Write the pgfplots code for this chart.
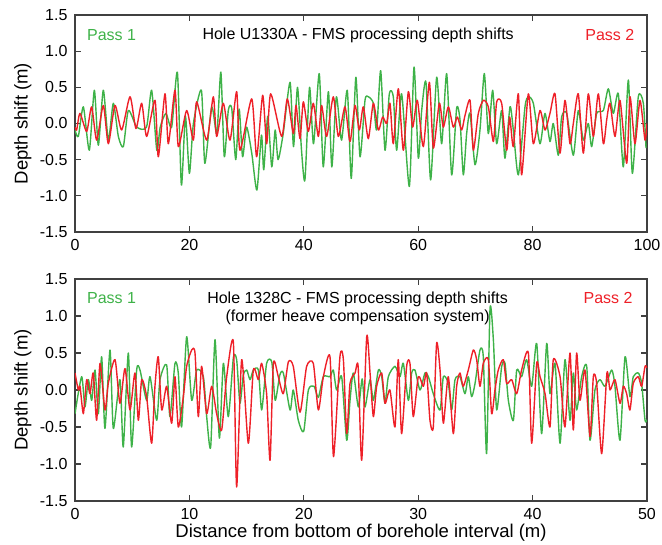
\documentclass[border=0pt]{standalone}
\usepackage{fontspec}
\setmainfont{Liberation Sans}
\usepackage{pgfplots}
\pgfplotsset{compat=1.18}
\definecolor{passone}{RGB}{62,178,72}
\definecolor{passtwo}{RGB}{238,32,40}
\pgfplotsset{
  shiftaxis/.style={
    scale only axis, width=572pt,
    ymin=-1.5, ymax=1.5, ytick={-1.5,-1,...,1.5},
    axis line style={line width=1.2pt, black!75},
    major tick style={line width=1.2pt, black!75},
    major tick length=6pt,
    tick label style={font=\fontsize{16}{18}\selectfont},
    yticklabel style={xshift=-4pt, /pgf/number format/.cd, fixed, fixed zerofill, precision=1},
    xticklabel style={yshift=-4pt},
    /pgf/number format/assume math mode=true,
    ylabel={Depth shift (m)},
    every axis y label/.style={at={(axis description cs:-0.091,0.5)}, rotate=90, anchor=center, font=\fontsize{18.5}{20}\selectfont},
    every axis x label/.style={at={(axis description cs:0.5,-0.145)}, anchor=center, font=\fontsize{18.5}{20}\selectfont},
    every axis plot/.append style={line width=1.4pt, smooth, tension=0.4, mark=none, line join=round},
  }}
\begin{document}
\begin{tikzpicture}
\path[use as bounding box] (-75pt,-44pt) rectangle (587pt,501pt);
% upper panel: Hole U1330A
\begin{axis}[shiftaxis, at={(0pt,269pt)}, anchor=south west, height=217pt,
  xmin=0, xmax=100, xtick={0,20,...,100}]
\addplot[passone] coordinates {(0,-0.09) (0.58,-0.18) (1.46,0.23) (2.5,-0.37) (3.38,0.46) (4.08,-0.30) (4.95,0.46) (5.83,-0.23) (6.7,0.28) (7.58,-0.18) (8.45,-0.32) (9.33,0.18) (10.8,-0.05) (12.5,-0.05) (13.4,0.46) (14.3,-0.37) (14.9,-0.05) (15.9,0.14) (16.9,-0.05) (17.9,0.71) (18.6,-0.85) (19.3,0.1) (20.0,-0.69) (20.7,0) (22.1,0.46) (22.7,-0.55) (23.9,0.23) (24.8,-0.14) (25.5,0.71) (26.1,-0.46) (26.8,0.18) (27.4,0.21) (28.1,-0.50) (28.7,0.2) (29.3,-0.46) (30.0,-0.05) (30.9,-0.41) (31.8,-0.92) (32.6,-0.16) (33.0,-0.64) (33.7,0.1) (34.4,-0.60) (35.0,-0.09) (35.5,-0.50) (36.4,-0.14) (37.6,0.57) (38.2,-0.32) (38.9,0.50) (39.6,-0.37) (40.2,-0.78) (41.0,0.50) (41.7,-0.28) (42.7,0.69) (43.4,-0.60) (44.3,0.44) (44.9,-0.60) (45.7,0.37) (46.6,-0.23) (47.6,0.46) (48.3,-0.76) (49.1,0.64) (49.83,-0.46) (50.70,0.32) (51.28,0.37) (52.16,0.28) (52.74,-0.09) (53.44,0.73) (54.20,-0.37) (54.95,0.41) (55.65,0.37) (56.24,-0.37) (57.11,0.41) (58.45,-0.87) (59.27,0.78) (60.02,-0.48) (60.61,0.18) (61.36,0.57) (62.18,-0.78) (63.23,0.64) (64.10,-0.28) (64.98,0.69) (65.85,-0.71) (66.72,0.21) (67.31,0.05) (67.89,-0.71) (68.47,-0.14) (69.06,0.14) (69.93,-0.57) (70.80,-0.09) (71.56,0.69) (72.26,-0.14) (73.02,0.46) (73.72,-0.28) (74.59,0.18) (75.17,-0.48) (76.05,0.23) (76.63,-0.09) (77.51,-0.71) (78.67,0.23) (79.25,0.37) (80.13,0.28) (81.29,-0.28) (82.17,0.14) (83.04,-0.25) (83.62,0) (84.50,-0.44) (85.08,0.09) (85.96,0.14) (87.12,-0.44) (87.99,0.18) (88.87,-0.23) (89.74,0) (90.33,-0.32) (91.20,0.14) (92.37,0.18) (93.24,0.48) (94.11,0.14) (94.99,0.41) (95.86,-0.60) (96.74,0.60) (97.44,-0.69) (98.48,0.37) (99.36,0.28) (99.83,-0.34)};
\addplot[passtwo] coordinates {(0,-0.05) (0.29,-0.09) (0.87,0.14) (2.04,-0.11) (2.91,0.23) (3.79,-0.23) (4.95,0.25) (5.83,-0.28) (6.99,0.25) (8.16,-0.09) (9.62,0.37) (10.66,-0.07) (11.66,0.28) (12.53,-0.18) (13.99,0.32) (14.57,-0.46) (15.73,0.41) (16.32,-0.28) (17.48,0.46) (18.07,-0.32) (19.52,0.18) (20.69,-0.23) (21.27,0.30) (23.02,-0.23) (24.18,0.37) (24.77,-0.18) (25.93,0.28) (27.10,-0.23) (28.26,0.44) (28.85,-0.37) (30.89,0.34) (31.76,-0.46) (32.81,0.39) (33.51,-0.28) (34.21,0.41) (36.13,-0.18) (37.12,0.34) (38.17,-0.14) (38.64,0.25) (39.34,-0.21) (39.92,0.30) (40.79,-0.11) (41.67,0.28) (42.54,-0.18) (43.12,0.25) (44.00,-0.18) (45.16,0.37) (46.04,-0.18) (47.20,0.23) (48.08,-0.25) (48.95,0.25) (49.71,-0.09) (50.41,0.23) (51.28,-0.21) (52.16,0.28) (53.03,-0.09) (53.79,0.09) (54.49,0.00) (55.07,0.28) (55.65,-0.28) (56.53,0.48) (57.40,-0.37) (58.28,0.44) (59.03,-0.05) (59.85,0.32) (60.90,-0.32) (61.95,0.57) (62.65,-0.34) (63.69,0.28) (64.39,-0.05) (65.27,0.23) (66.14,-0.05) (66.84,0.09) (67.60,-0.09) (68.18,0.11) (69.06,0.32) (69.64,-0.37) (70.51,0.14) (71.39,0.32) (72.26,0.23) (73.14,-0.25) (73.72,0.30) (74.59,0.28) (75.47,-0.37) (75.99,0.09) (76.63,-0.32) (77.51,0.41) (78.09,-0.71) (79.25,0.41) (80.13,-0.28) (81.29,0.18) (82.17,-0.09) (83.04,0.14) (83.92,0.41) (84.79,-0.41) (85.66,0.32) (86.54,-0.28) (87.12,0.00) (87.99,0.41) (88.87,-0.41) (89.74,0.41) (90.62,-0.18) (91.49,0.41) (92.37,-0.28) (92.95,0.05) (93.53,0.28) (94.41,-0.18) (95.28,0.32) (96.45,-0.55) (97.03,0.37) (97.90,-0.28) (98.78,0.32) (99.65,-0.23) (100,0.0)};
\node[text=passone, font=\fontsize{16}{18}\selectfont] at (axis cs:6.4,1.22) {Pass 1};
\node[font=\fontsize{16}{18}\selectfont] at (axis cs:49.5,1.22) {Hole U1330A - FMS processing depth shifts};
\node[text=passtwo, font=\fontsize{16}{18}\selectfont] at (axis cs:93.5,1.22) {Pass 2};
\end{axis}
% lower panel: Hole 1328C
\begin{axis}[shiftaxis, at={(0pt,0pt)}, anchor=south west, height=222pt,
  xmin=0, xmax=50, xtick={0,10,...,50},
  xlabel={Distance from bottom of borehole interval (m)}]
\addplot[passone] coordinates {(0,-0.32) (0.58,0.18) (0.87,-0.23) (1.17,0.14) (1.46,-0.14) (1.75,0.27) (2.04,-0.32) (2.33,0.45) (2.62,-0.52) (3.06,0.54) (3.35,-0.52) (3.93,0.14) (4.22,-0.77) (4.66,0.50) (4.95,-0.77) (5.39,0.27) (5.68,0.27) (6.26,-0.14) (6.56,0.18) (7.14,-0.41) (7.43,0.14) (8.01,0.34) (8.30,-0.36) (8.74,0.36) (9.03,0.23) (9.32,-0.50) (9.76,0.72) (10.20,-0.14) (10.64,0.27) (11.22,0.18) (11.51,-0.36) (11.86,-0.77) (12.24,0.68) (12.62,-0.65) (12.97,0.36) (13.40,-0.36) (13.84,0.43) (14.13,0.41) (14.42,-0.18) (14.71,0.20) (15.01,0.27) (15.30,0.14) (15.59,0.27) (16.03,0.27) (16.32,-0.27) (16.75,0.36) (17.2,0.38) (17.5,-0.14) (17.9,0.2) (18.21,0.23) (18.8,-0.27) (19.08,0.0) (19.52,-0.41) (19.99,-0.56) (20.40,0) (20.9,0.05) (21.27,-0.1) (21.71,0.18) (22.29,0.18) (22.58,0.27) (22.87,0.0) (23.31,0.18) (23.75,-0.68) (24.04,-0.14) (24.33,0.23) (24.77,-0.23) (25.1,0.15) (25.35,-0.23) (25.79,0.14) (26.08,-0.14) (26.52,0.27) (26.81,0.18) (27.10,-0.18) (27.39,0.18) (27.97,0.32) (28.41,0.18) (28.70,0.36) (29.14,-0.14) (29.43,0.23) (29.72,0.27) (30.16,0) (30.59,0.23) (30.89,0.18) (31.32,-0.05) (31.91,-0.27) (32.20,0.18) (32.63,0.09) (32.93,-0.27) (33.22,0.14) (33.65,0.18) (34.09,-0.05) (34.38,0.18) (34.67,-0.09) (34.97,0.09) (35.40,0.54) (35.69,0.45) (35.98,-0.86) (36.28,1.10) (36.57,0.68) (36.86,-0.27) (37.30,0.32) (37.59,0.36) (37.88,-0.14) (38.32,-0.41) (38.61,0.27) (39.04,0.18) (39.48,0.41) (39.92,0.05) (40.36,0.63) (40.79,-0.59) (41.23,0.63) (41.52,-0.05) (41.96,0.36) (42.40,-0.72) (42.83,0.41) (43.27,-0.41) (43.56,0.23) (43.85,-0.27) (44.29,0.18) (44.73,0.32) (45.02,-0.68) (45.45,0) (45.89,0.14) (46.33,0.05) (46.91,0.27) (47.20,0.05) (47.64,-0.68) (48.08,0.45) (48.51,-0.09) (48.80,0.18) (49.24,0.23) (49.53,0.09) (49.83,-0.41) (50,-0.4)};
\addplot[passtwo] coordinates {(0,0.23) (0.29,0) (0.44,0.05) (0.73,-0.32) (1.02,0.14) (1.31,-0.05) (1.60,0.23) (1.89,-0.41) (2.19,0.36) (2.62,-0.27) (2.91,0.09) (3.50,0.41) (3.93,-0.18) (4.37,0.29) (4.81,-0.27) (5.24,0.23) (5.54,-0.41) (5.83,0.14) (6.26,-0.09) (6.70,-0.72) (6.99,0.05) (7.28,0.45) (7.58,-0.27) (8.01,0.05) (8.45,-0.45) (8.74,0.18) (9.03,-0.50) (9.47,-0.09) (9.76,0.32) (10.20,0.54) (10.49,0.50) (10.78,-0.36) (11.07,0.32) (11.51,-0.32) (11.95,0.05) (12.38,-0.32) (12.82,-0.54) (13.26,0.18) (13.84,0.65) (14.13,-1.31) (14.57,0.41) (15.15,-0.72) (15.59,0.27) (16.03,0.14) (16.32,0.36) (16.75,-0.05) (17.05,-0.95) (17.34,0.36) (17.77,0.18) (18.21,-0.05) (18.65,0.38) (19.08,0.32) (19.67,-0.3) (20.25,0.32) (20.83,0.36) (21.27,-0.27) (21.71,0.18) (22.29,0.45) (22.6,-0.90) (23.16,0.45) (23.46,0.41) (23.75,-0.59) (24.04,0.09) (24.48,0.23) (24.75,0.32) (25.06,-0.95) (25.50,0.72) (25.79,0.23) (26.08,-0.36) (26.37,0.05) (26.81,0.23) (27.10,-0.18) (27.53,0) (27.97,-0.50) (28.26,0.41) (28.55,-0.59) (28.99,0.32) (29.28,0.36) (29.57,-0.36) (30.01,0.18) (30.45,0.05) (30.74,0.23) (31.03,-0.41) (31.32,-0.50) (31.61,0.63) (31.91,0.27) (32.20,-0.45) (32.63,0.18) (33.07,-0.59) (33.36,0.05) (33.65,0.23) (33.94,0.05) (34.38,0.27) (34.82,0.54) (35.11,0.41) (35.40,0.05) (35.69,0.36) (36.13,0.41) (36.42,-0.32) (36.71,0) (37.00,0.27) (37.44,0.41) (37.73,0.09) (38.17,0.14) (38.61,-0.05) (39.04,0.27) (39.63,0.50) (39.92,-0.72) (40.36,0.36) (40.65,0.18) (41.09,-0.05) (41.52,-0.50) (41.81,0.41) (42.40,0.18) (42.83,-0.50) (43.27,0.50) (43.56,-0.54) (43.85,0.50) (44.14,-0.14) (44.58,0.27) (45.02,-0.63) (45.31,0.18) (45.60,0.09) (46.04,-0.86) (46.50,0.23) (46.77,0) (47.20,0.14) (47.64,-0.18) (47.93,0.05) (48.22,-0.05) (48.51,-0.27) (48.80,0.09) (49.24,0.18) (49.53,0.05) (49.83,0.32) (50,0.3)};
\node[text=passone, font=\fontsize{16}{18}\selectfont] at (axis cs:3.2,1.24) {Pass 1};
\node[font=\fontsize{16}{18}\selectfont, align=center] at (axis cs:24.7,1.1) {Hole 1328C - FMS processing depth shifts\\(former heave compensation system)};
\node[text=passtwo, font=\fontsize{16}{18}\selectfont] at (axis cs:46.6,1.24) {Pass 2};
\end{axis}
\end{tikzpicture}
\end{document}
